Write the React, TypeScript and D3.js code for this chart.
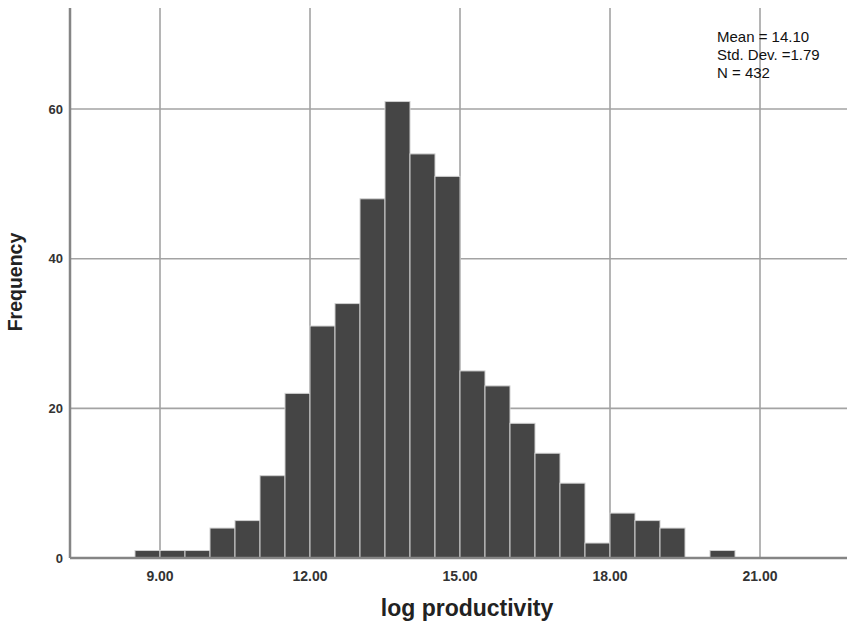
import * as d3 from "d3";
import { useEffect, useRef } from "react";

// histogram bins (0.5 wide), lower edges and counts
const binStarts = [8.5, 9, 9.5, 10, 10.5, 11, 11.5, 12, 12.5, 13, 13.5, 14, 14.5, 15, 15.5, 16, 16.5, 17, 17.5, 18, 18.5, 19, 19.5, 20];
const counts = [1, 1, 1, 4, 5, 11, 22, 31, 34, 48, 61, 54, 51, 25, 23, 18, 14, 10, 2, 6, 5, 4, 0, 1];
const binWidth = 0.5;
const xTicks = [9, 12, 15, 18, 21];
const yTicks = [0, 20, 40, 60];
const statLines = ["Mean = 14.10", "Std. Dev. =1.79", "N = 432"];

const width = 847;
const height = 626;
const margin = { top: 8, right: 0, bottom: 68, left: 70 };

function App() {
  const ref = useRef<SVGSVGElement>(null);

  useEffect(() => {
    const svg = d3.select(ref.current);
    svg.selectAll("*").remove();

    const x = d3
      .scaleLinear()
      .domain([7.2, 22.74])
      .range([margin.left, width - margin.right]);
    const y = d3
      .scaleLinear()
      .domain([0, 73.5])
      .range([height - margin.bottom, margin.top]);

    const grid = svg.append("g");
    // horizontal grid
    grid
      .selectAll("line.h")
      .data(yTicks.filter((d) => d > 0))
      .join("line")
      .attr("x1", margin.left)
      .attr("x2", width - margin.right)
      .attr("y1", (d) => y(d))
      .attr("y2", (d) => y(d))
      .attr("stroke", "#a3a3a3")
      .attr("stroke-width", 1.6);
    // vertical grid
    grid
      .selectAll("line.v")
      .data(xTicks)
      .join("line")
      .attr("x1", (d) => x(d))
      .attr("x2", (d) => x(d))
      .attr("y1", margin.top)
      .attr("y2", y(0))
      .attr("stroke", "#a3a3a3")
      .attr("stroke-width", 1.6);

    // bars
    svg
      .append("g")
      .selectAll("rect")
      .data(binStarts.map((s, i) => ({ s, n: counts[i] })).filter((d) => d.n > 0))
      .join("rect")
      .attr("x", (d) => x(d.s))
      .attr("width", (d) => x(d.s + binWidth) - x(d.s))
      .attr("y", (d) => y(d.n))
      .attr("height", (d) => y(0) - y(d.n))
      .attr("fill", "#454545")
      .attr("stroke", "#d0d0d0")
      .attr("stroke-width", 1);

    // axis frame
    svg
      .append("line")
      .attr("x1", margin.left)
      .attr("x2", margin.left)
      .attr("y1", margin.top)
      .attr("y2", y(0))
      .attr("stroke", "#858585")
      .attr("stroke-width", 2.5);
    svg
      .append("line")
      .attr("x1", margin.left)
      .attr("x2", width - margin.right)
      .attr("y1", y(0))
      .attr("y2", y(0))
      .attr("stroke", "#858585")
      .attr("stroke-width", 2.5);

    // tick labels
    svg
      .append("g")
      .selectAll("text")
      .data(yTicks)
      .join("text")
      .attr("x", margin.left - 7)
      .attr("y", (d) => y(d))
      .attr("dy", "0.35em")
      .attr("text-anchor", "end")
      .style("font", "bold 13px Arial, 'Liberation Sans', sans-serif")
      .attr("fill", "#333")
      .text((d) => d);

    svg
      .append("g")
      .selectAll("text")
      .data(xTicks)
      .join("text")
      .attr("x", (d) => x(d))
      .attr("y", y(0) + 23)
      .attr("text-anchor", "middle")
      .style("font", "bold 14px Arial, 'Liberation Sans', sans-serif")
      .attr("fill", "#333")
      .text((d) => d3.format(".2f")(d));

    // axis titles
    svg
      .append("text")
      .attr("x", 467)
      .attr("y", 616)
      .attr("text-anchor", "middle")
      .style("font", "bold 23px Arial, 'Liberation Sans', sans-serif")
      .attr("fill", "#222")
      .text("log productivity");

    svg
      .append("text")
      .attr("transform", `translate(22,${282}) rotate(-90)`)
      .attr("text-anchor", "middle")
      .style("font", "bold 19.5px Arial, 'Liberation Sans', sans-serif")
      .attr("fill", "#222")
      .text("Frequency");

    // stats box
    svg
      .append("g")
      .selectAll("text")
      .data(statLines)
      .join("text")
      .attr("x", 717)
      .attr("y", (d, i) => 42 + i * 18)
      .style("font", "15px Arial, 'Liberation Sans', sans-serif")
      .attr("fill", "#111")
      .text((d) => d);
  }, []);

  return (
    <div style={{ position: "absolute", left: 0, top: 0 }}>
      <svg ref={ref} width={width} height={height} style={{ display: "block", background: "white" }} />
    </div>
  );
}

export default App;
